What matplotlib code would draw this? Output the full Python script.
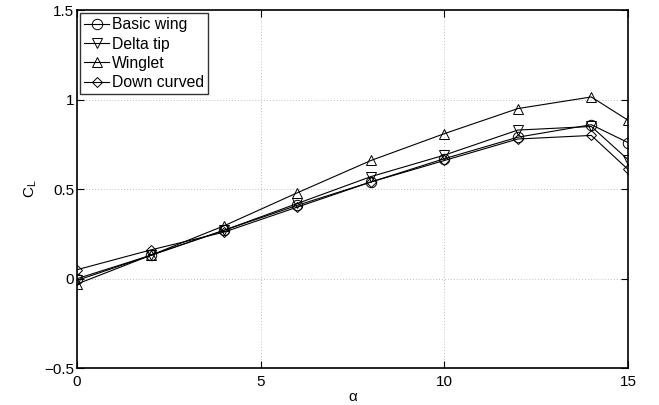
import numpy as np
import matplotlib
matplotlib.use("Agg")
import matplotlib.pyplot as plt
from matplotlib.ticker import FuncFormatter

plt.rcParams['font.family'] = ['Liberation Sans', 'DejaVu Sans']
plt.rcParams['mathtext.default'] = 'regular'

# angle of attack and lift coefficient per wing tip
alpha = [0, 2, 4, 6, 8, 10, 12, 14, 15]
basic_wing = [0.0, 0.13, 0.27, 0.41, 0.54, 0.67, 0.79, 0.86, 0.76]
delta_tip = [-0.01, 0.13, 0.27, 0.42, 0.57, 0.69, 0.83, 0.85, 0.665]
winglet = [-0.03, 0.13, 0.295, 0.48, 0.66, 0.81, 0.95, 1.015, 0.885]
down_curved = [0.05, 0.16, 0.26, 0.40, 0.54, 0.66, 0.78, 0.80, 0.61]

series = [("Basic wing", basic_wing, "o"),
          ("Delta tip", delta_tip, "v"),
          ("Winglet", winglet, "^"),
          ("Down curved", down_curved, "D")]

fig = plt.figure(figsize=(6.59, 4.05), dpi=100)
ax = fig.add_axes([0.117, 0.091, 0.836, 0.884])

for name, vals, m in series:
    ms = 5.5 if m == "D" else 7.5
    ax.plot(alpha, vals, color="black", lw=0.8, marker=m, ms=ms,
            mfc="none", mec="black", mew=0.7, label=name)

ax.set_xlim(0, 15)
ax.set_ylim(-0.5, 1.5)
ax.set_xticks([0, 5, 10, 15])
ax.set_yticks([-0.5, 0, 0.5, 1, 1.5])
fmt = FuncFormatter(lambda v, p: ("%g" % v).replace("-", "\u2212"))
ax.xaxis.set_major_formatter(fmt)
ax.yaxis.set_major_formatter(fmt)
ax.tick_params(direction="in", top=True, right=True, length=5, width=0.8,
               labelsize=11)
ax.tick_params(axis="x", pad=5)
ax.tick_params(axis="y", pad=2)
for s in ax.spines.values():
    s.set_linewidth(1.2)
ax.grid(True, color="#aaaaaa", linestyle=(0, (1, 2.5)), linewidth=0.6)

ax.set_xlabel("\u03b1", fontsize=11, labelpad=1)
ax.set_ylabel("C$_L$", fontsize=11)
ax.yaxis.set_label_coords(-0.07, 0.5)

leg = ax.legend(loc="upper left", fontsize=11.3, frameon=True, fancybox=False,
                edgecolor="black", handlelength=1.6, handletextpad=0.2,
                labelspacing=0.28, borderpad=0.25, borderaxespad=0.2)
leg.get_frame().set_linewidth(1.0)

fig.savefig("out.png", dpi=100)
